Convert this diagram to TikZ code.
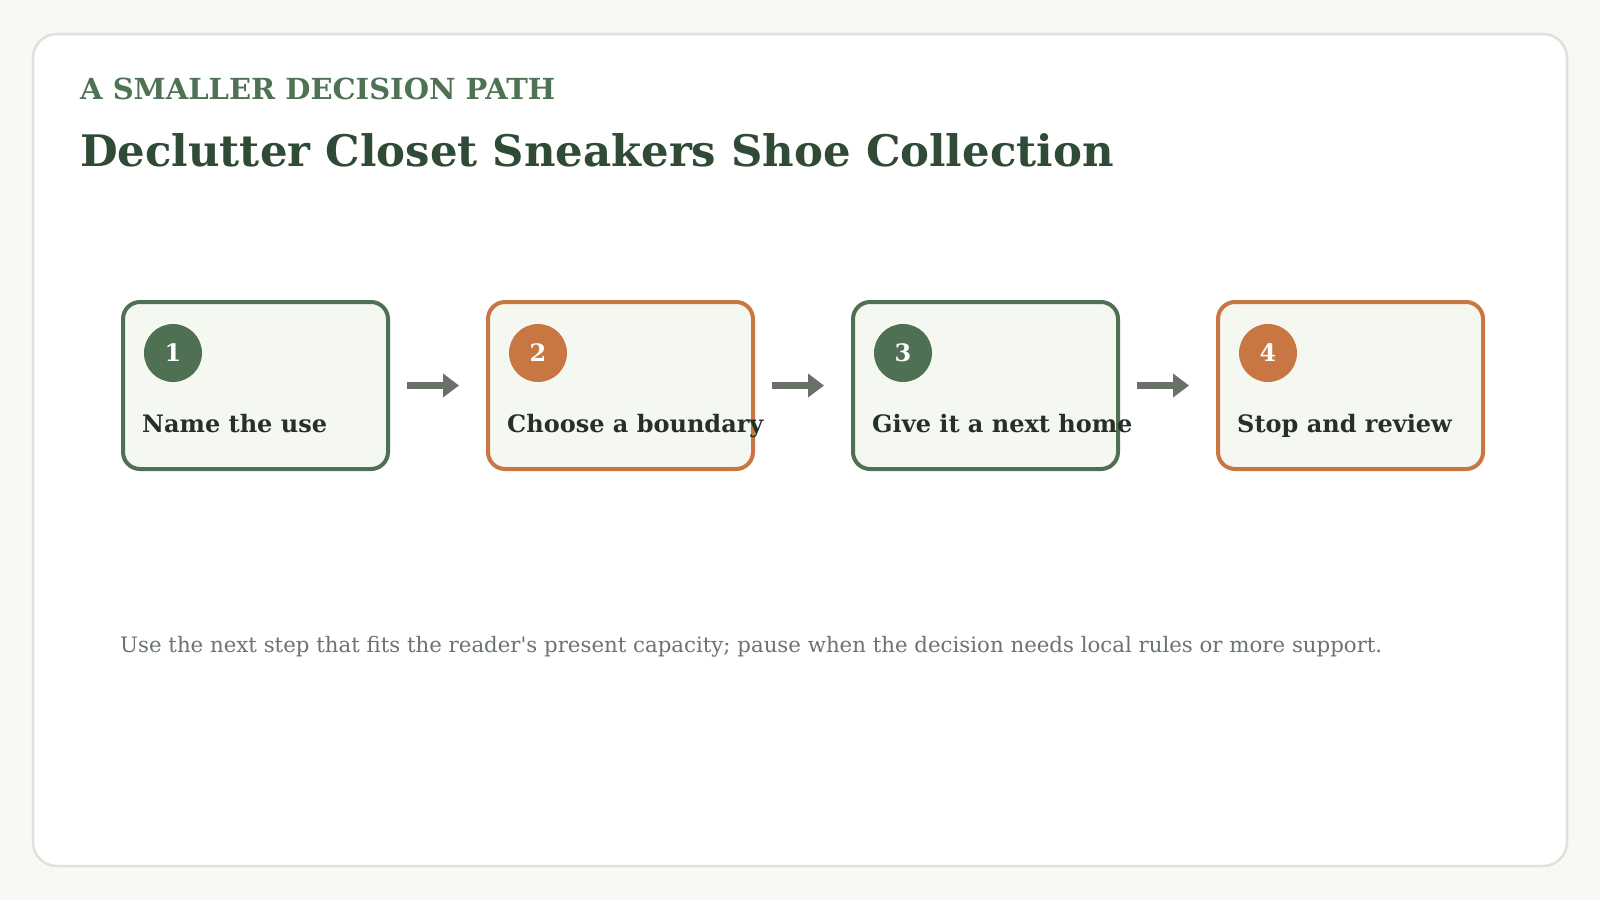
\documentclass[tikz,border=0pt]{standalone}
\usepackage{fontspec}
\setmainfont{DejaVu Serif}
\usetikzlibrary{arrows.meta}

\definecolor{pagebg}{HTML}{F9F8F4}
\definecolor{cardline}{HTML}{DDE2DA}
\definecolor{sage}{HTML}{4F7052}
\definecolor{clay}{HTML}{C87642}
\definecolor{boxfill}{HTML}{F5F8F1}
\definecolor{titlegreen}{HTML}{2F4A35}
\definecolor{kickergreen}{HTML}{4E7253}
\definecolor{labeltext}{HTML}{253027}
\definecolor{arrowgray}{HTML}{687068}
\definecolor{notegray}{HTML}{6B756B}

\begin{document}
\begin{tikzpicture}[x=1pt,y=-1pt,
  stepbox/.style={draw, line width=4pt, rounded corners=17pt, fill=boxfill,
    minimum width=265pt, minimum height=167pt, inner sep=0pt},
  badge/.style={circle, minimum size=58pt, inner sep=0pt, text=white,
    font=\bfseries\fontsize{24}{24}\selectfont},
  steplabel/.style={anchor=base west, inner sep=0pt, text=labeltext,
    font=\bfseries\fontsize{24}{24}\selectfont},
  flow/.style={draw=arrowgray, line width=7pt, -{Triangle[length=16pt,width=23pt]}}]

  % page and card
  \fill[pagebg] (0,0) rectangle (1600,900);
  \useasboundingbox (0,0) rectangle (1600,900);
  \draw[cardline, line width=2.5pt, fill=white, rounded corners=24pt] (33,34) rectangle (1567,866);

  % headings
  \node[anchor=base west, inner sep=0pt, text=kickergreen,
    font=\bfseries\fontsize{29}{29}\selectfont] (kicker) at (80,99) {A SMALLER DECISION PATH};
  \node[anchor=base west, inner sep=0pt, text=titlegreen,
    font=\bfseries\fontsize{43.4}{43.4}\selectfont] (title) at (80,166) {Declutter Closet Sneakers Shoe Collection};

  % steps
  \foreach \i/\col in {1/sage,2/clay,3/sage,4/clay} {
    \node[stepbox, draw=\col] (step\i) at ({255.5+365*(\i-1)},385.5) {};
    \node[badge, fill=\col] (num\i) at ([xshift=-82.5pt, yshift=32.5pt]step\i.center) {\i};
  }
  \foreach \i/\txt in {1/Name the use, 2/Choose a boundary, 3/Give it a next home, 4/Stop and review}
    \node[steplabel] (label\i) at ([xshift=21pt, yshift=-46.5pt]step\i.west) {\txt};

  % arrows
  \foreach \i/\j in {1/2,2/3,3/4}
    \draw[flow, shorten <=17pt, shorten >=27pt] (step\i.east) -- (step\j.west);

  % note
  \node[anchor=base west, inner sep=0pt, text=notegray,
    font=\fontsize{21.3}{21.3}\selectfont] (note) at (120,652)
    {Use the next step that fits the reader\textquotesingle s present capacity; pause when the decision needs local rules or more support.};
\end{tikzpicture}
\end{document}
